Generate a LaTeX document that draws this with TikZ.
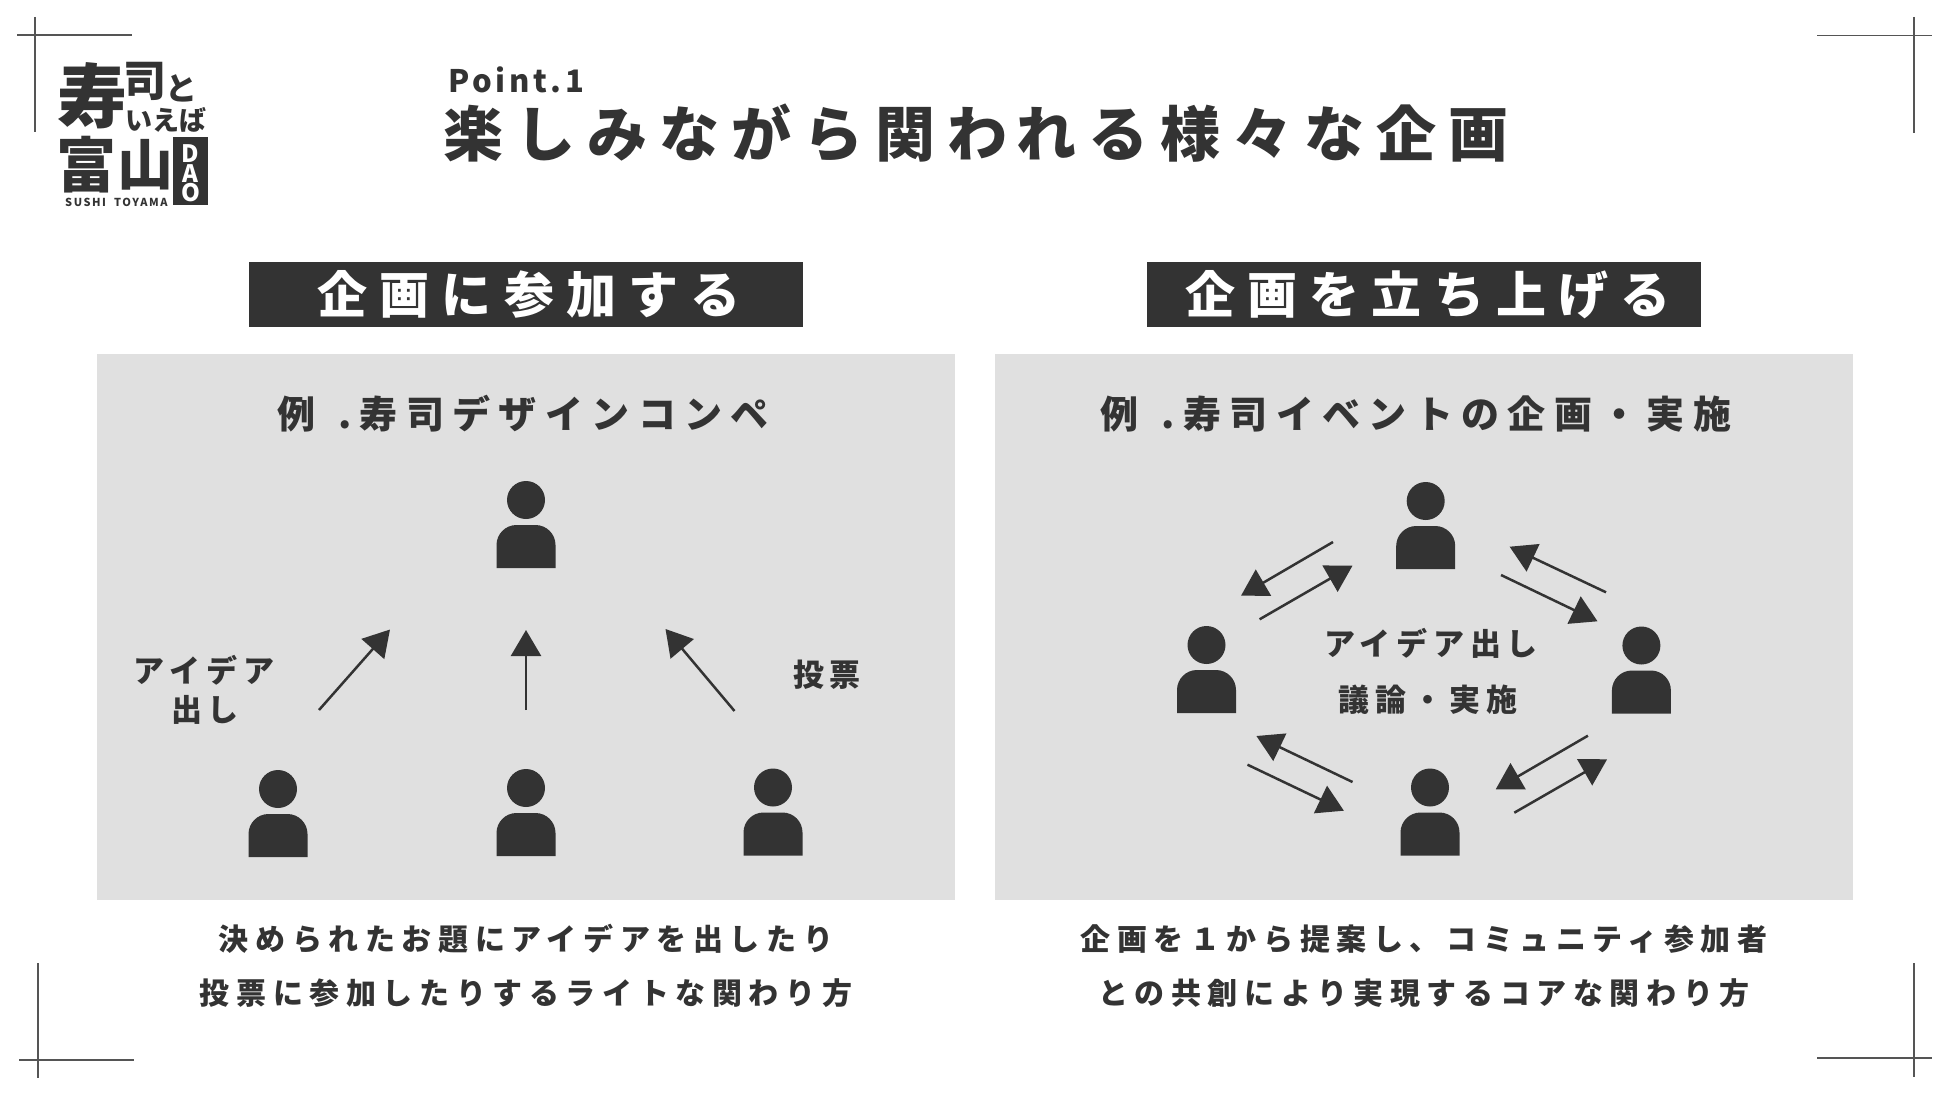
\documentclass[tikz,border=0pt]{standalone}
\usepackage{fontspec}
\newfontfamily\jpfont{Noto Sans CJK JP}
\newfontfamily\jpblack{Noto Sans CJK JP Black}
\definecolor{sushidark}{HTML}{333333}
\definecolor{sushipanel}{HTML}{E0E0E0}
\definecolor{sushicrop}{HTML}{555555}
\newcommand{\jptext}[2]{\fontsize{#1}{#1}\jpblack\addfontfeature{LetterSpace=#2}}
\newcommand{\jpbold}[2]{\fontsize{#1}{#1}\jpfont\bfseries\addfontfeature{LetterSpace=#2}}
\usetikzlibrary{arrows.meta,positioning}

\begin{document}
\begin{tikzpicture}[x=1pt, y=-1pt, >={Triangle[length=26pt,width=30pt]},
  every node/.style={inner sep=0pt, text=sushidark},
  panel/.style={fill=sushipanel, minimum width=858pt, minimum height=546pt},
  headbar/.style={fill=sushidark, minimum width=554pt, minimum height=65pt},
  headtext/.style={anchor=base, text=white, font=\jptext{50}{24.5}},
  subhead/.style={anchor=base, font=\jptext{38}{22}},
  caption/.style={anchor=base, font=\jptext{30}{22}},
  tag/.style={anchor=base, font=\jptext{31}{19}},
  logo/.style={anchor=base, font=\jptext{#1}{0}},
  daotext/.style={anchor=base, text=white, font=\jptext{24}{0}},
  cropline/.style={draw=sushicrop, line width=1.5pt},
  flow/.style={->, sushidark, line width=2.5pt},
  person/.style={minimum width=59pt, minimum height=87pt, path picture={
    \fill[sushidark] ([yshift=-19pt]path picture bounding box.north) circle (19pt);
    \fill[sushidark, rounded corners=20pt] (path picture bounding box.south west) -- ++(0pt,43pt)
      -- ++(59pt,0pt) [sharp corners] -- (path picture bounding box.south east) -- cycle;
  }}]

\useasboundingbox (0,0) rectangle (1950,1097);

% crop marks
\draw[cropline] (17,35) -- (132,35);
\draw[cropline] (35,17) -- (35,132);
\draw[cropline] (1817,35.5) -- (1932,35.5);
\draw[cropline] (1914,17) -- (1914,133);
\draw[cropline] (19,1060) -- (134,1060);
\draw[cropline] (38,963) -- (38,1078);
\draw[cropline] (1817,1058) -- (1932,1058);
\draw[cropline] (1914,963) -- (1914,1077);

% logo
\node[logo=70] (kotobuki) at (92,122) {寿};
\node[logo=43] (tsukasa) at (145,97) {司};
\node[logo=32] (to) at (181,101) {と};
\node[logo=27] (ieba) at (166,131) {いえば};
\node[logo=60] (tomi) at (86,187) {富};
\node[logo=56] (yama) at (145,185.5) {山};
\node[fill=sushidark, minimum width=35pt, minimum height=68pt] (daobox) at (190.5,171) {};
\node[daotext] (dao1) at (190.5,162) {D};
\node[daotext] (dao2) at (190.5,182) {A};
\node[daotext] (dao3) at (190.5,201) {O};
\node[anchor=base west, font=\jpbold{11}{14}] (sushitoyama) at (65,206) {SUSHI\ \ TOYAMA};

% title
\node[anchor=base west, font=\jpbold{31}{12}] (point) at (448,93) {Point.1};
\node[anchor=base west, font=\jptext{60}{20}] (title) at (443,157) {楽しみながら関われる様々な企画};

% panels
\node[headbar] (joinbar) at (526,294.5) {};
\node[headbar] (startbar) at (1424,294.5) {};
\node[headtext] (jointext) at (529,313) {企画に参加する};
\node[headtext] (starttext) at (1428,313) {企画を立ち上げる};
\node[panel] (joinpanel) at (526,627) {};
\node[panel] (startpanel) at (1424,627) {};
\node[subhead] (joinsub) at (523,428.5) {例\hspace{6pt} .寿司デザインコンペ};
\node[subhead] (startsub) at (1416,428.5) {例\hspace{6pt} .寿司イベントの企画・実施};

% left side
\node[person] (judge) at (526,524.5) {};
\node[person] (joinleft) at (278,813.5) {};
\node[person] (joinmid) at (526,812.5) {};
\node[person] (joinright) at (773,812) {};

\coordinate (ideaa) at (319,710); \coordinate (ideab) at (390,629.5);
\coordinate (midaa) at (526,710); \coordinate (midab) at (526,630);
\coordinate (votea) at (734.5,711); \coordinate (voteb) at (665.5,629);
\draw[flow] (ideaa) -- (ideab);
\draw[flow] (midaa) -- (midab);
\draw[flow] (votea) -- (voteb);

\node[tag] (ideatag) at (204,682) {アイデア};
\node[tag] (ideatag2) at (205,721) {出し};
\node[tag] (votetag) at (827,686) {投票};

% right side
\node[person] (ringtop) at (1425.7,525.5) {};
\node[person] (ringleft) at (1206.5,669.5) {};
\node[person] (ringright) at (1641.4,670) {};
\node[person] (ringbottom) at (1430,812) {};

\coordinate (tla) at (1333,542); \coordinate (tlb) at (1241,595.7);
\coordinate (lta) at (1259.6,619.3); \coordinate (ltb) at (1352.5,565.7);
\coordinate (rta) at (1606,592.3); \coordinate (rtb) at (1509.6,546.7);
\coordinate (tra) at (1501,575); \coordinate (trb) at (1597.5,621.3);
\coordinate (bla) at (1352.5,782); \coordinate (blb) at (1256.4,736);
\coordinate (lba) at (1247.5,764.7); \coordinate (lbb) at (1343.9,810.7);
\coordinate (rba) at (1587.9,735.7); \coordinate (rbb) at (1495.7,789.3);
\coordinate (bra) at (1514.3,812.7); \coordinate (brb) at (1607.1,759.3);
\draw[flow] (tla) -- (tlb);
\draw[flow] (lta) -- (ltb);
\draw[flow] (rta) -- (rtb);
\draw[flow] (tra) -- (trb);
\draw[flow] (bla) -- (blb);
\draw[flow] (lba) -- (lbb);
\draw[flow] (rba) -- (rbb);
\draw[flow] (bra) -- (brb);

\node[tag] (ringtag) at (1431,655) {アイデア出し};
\node[tag] (ringtag2) at (1428,711) {議論・実施};

% captions
\node[caption] (joincap) at (526,950) {決められたお題にアイデアを出したり};
\node[caption] (joincap2) at (526,1004) {投票に参加したりするライトな関わり方};
\node[caption] (startcap) at (1424,950) {企画を１から提案し、コミュニティ参加者};
\node[caption] (startcap2) at (1424,1004) {との共創により実現するコアな関わり方};

\end{tikzpicture}
\end{document}
